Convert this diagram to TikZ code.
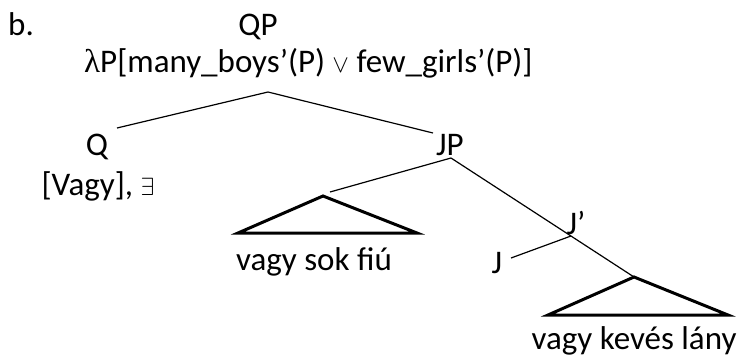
\documentclass[tikz,border=0pt]{standalone}
\usepackage{fontspec}
\setmainfont{Carlito}
\newfontfamily\symf{Liberation Serif}
\begin{document}
\begin{tikzpicture}[x=1pt,y=-1pt,
  lbl/.style={anchor=base,inner sep=0pt,font=\fontsize{33}{40}\selectfont},
  edge/.style={line width=1.2pt},
  tri/.style={line width=3pt,line join=miter}]
\useasboundingbox (0,0) rectangle (738,356);
% labels
\node[lbl,anchor=base west] (b) at (8,35) {b.};
\node[lbl] (qp) at (258,35) {QP};
\node[lbl,anchor=base west] (sem) at (84,72) {{\symf λ}P[many\_boys’(P) $\vee$ few\_girls’(P)]};
\node[lbl] (q) at (97,155) {Q};
\node[lbl] (qsem) at (98,195) {[Vagy], $\exists$};
\node[lbl] (jp) at (450,155) {JP};
\node[lbl] (jbar) at (576,234) {J’};
\node[lbl] (j) at (497,273) {J};
\node[lbl] (t1) at (314,270) {vagy sok fiú};
\node[lbl] (t2) at (634,349) {vagy kevés lány};
% attachment points
\coordinate (qpb) at (268,92);
\coordinate (qt) at (117,128);
\coordinate (jpt) at (433,133);
\coordinate (jpb) at (451,158);
\coordinate (tri1top) at (323,196);
\coordinate (e1) at (330,192);
\coordinate (jbarb) at (571,236);
\coordinate (jt) at (511,258);
\coordinate (tri2top) at (634,277);
% edges
\draw[edge] (qpb) -- (qt);
\draw[edge] (qpb) -- (jpt);
\draw[edge] (jpb) -- (e1);
\draw[edge] (jpb) -- (tri2top);
\draw[edge] (jbarb) -- (jt);
% triangles
\draw[tri] (tri1top) -- (238,233) -- (417,233) -- cycle;
\draw[tri] (tri2top) -- (548,315) -- (728,315) -- cycle;
\end{tikzpicture}
\end{document}
